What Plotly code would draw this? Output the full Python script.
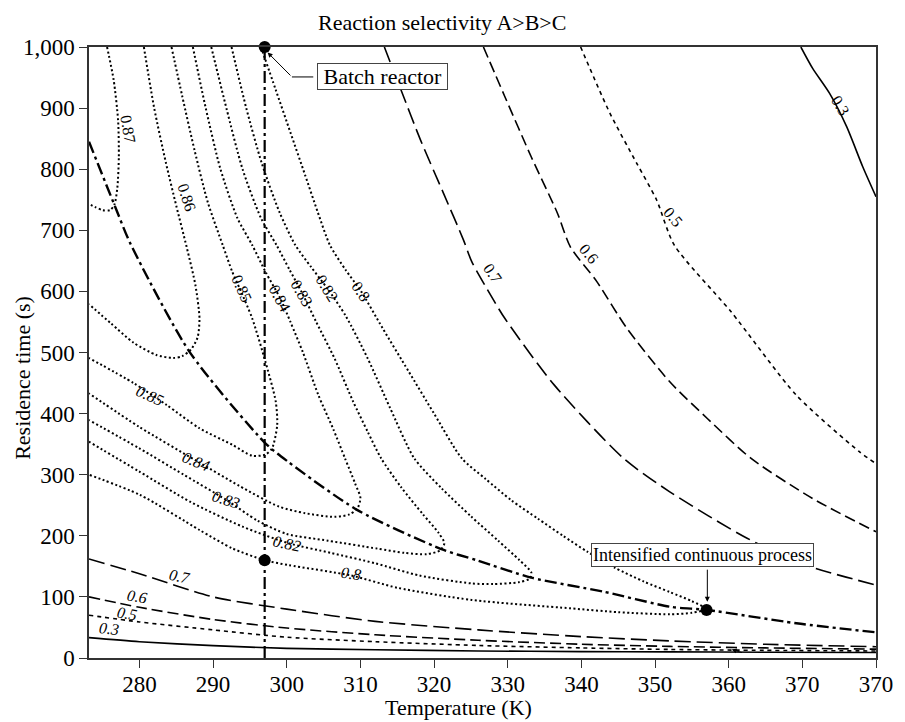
import plotly.graph_objects as go

T_MIN, T_MAX = 273.15, 380.0

# ---- contour lines (Temperature K, residence time s) ----
c087_T = [275.6, 276.5, 277.1, 277.2, 277.0, 276.6, 276.0, 275.0, 274.0, 273.15]
c087_t = [1000, 946, 880, 820, 770, 742, 733, 733, 738, 743]

c086_T = [280.6, 282.0, 283.6, 285.0, 286.4, 287.6, 288.15, 287.9, 287.0, 285.8, 284.6, 282.3, 279.2, 276.1, 273.15]
c086_t = [1000, 900, 810, 740, 673, 610, 556, 525, 505, 494, 491, 496, 516, 548, 579]

c085_T = [284.35, 285.8, 287.5, 289.3, 291.3, 292.6, 293.6, 295.3, 297.1, 298.5, 298.7, 298.0, 297.1, 295.3, 292.6, 288.15, 283.7, 279.2, 273.15]
c085_t = [1000, 920, 830, 745, 676, 632, 605, 556, 485, 420, 381, 343, 333, 331, 349, 376, 414, 450, 491]

c084_T = [287.25, 289.0, 291.0, 293.3, 295.3, 297.2, 299.1, 300.5, 302.2, 304.3, 306.3, 307.9, 309.3, 310.0, 309.6, 308.5, 306.5, 302.5, 298.9, 293.5, 287.7, 280.0, 273.15]
c084_t = [1000, 900, 800, 720, 676, 630, 589, 550, 500, 430, 375, 327, 285, 262, 245, 235, 231, 237, 248, 282, 323, 378, 433]

c083_T = [289.75, 291.8, 294.0, 296.5, 298.6, 300.4, 302.1, 304.0, 306.5, 309.0, 311.0, 312.8, 315.5, 318.5, 320.6, 321.4, 320.8, 319.0, 316.0, 312.3, 305.6, 300.0, 296.0, 291.75, 286.0, 280.0, 273.15]
c083_t = [1000, 900, 800, 720, 676, 635, 597, 550, 490, 420, 370, 327, 280, 235, 205, 188, 176, 170, 172, 179, 192, 203, 225, 259, 300, 343, 389.5]

c082_T = [292.5, 294.5, 296.6, 299.0, 301.15, 303.3, 305.5, 308.0, 311.0, 314.0, 317.3, 321.0, 325.0, 328.7, 331.6, 333.2, 333.0, 331.5, 328.0, 325.1, 318.0, 312.0, 306.0, 300.2, 294.0, 287.0, 280.0, 273.15]
c082_t = [1000, 900, 810, 730, 676, 640, 605, 560, 490, 410, 327, 278, 232, 192, 160, 140, 130, 124, 121, 122, 135, 155, 172, 188, 215, 255, 305, 354]

c080_T = [296.5, 298.5, 300.5, 302.5, 304.2, 305.85, 308.0, 310.1, 313.0, 316.5, 320.0, 323.75, 327.0, 330.5, 334.1, 337.5, 340.8, 344.5, 348.5, 352.0, 355.0, 357.0, 355.0, 352.0, 345.0, 338.5, 325.1, 315.0, 308.75, 300.25, 297.0, 292.6, 288.15, 280.1, 273.15]
c080_t = [1000, 930, 860, 790, 730, 676, 635, 600, 540, 470, 400, 327, 293, 258, 228, 200, 174, 148, 125, 108, 93, 80, 74, 71.5, 75, 81.3, 95, 115, 135, 152, 160, 179.5, 209.5, 266.8, 300]

c070u_T = [313.25, 315.5, 318.15, 321.3, 324.0, 325.1, 326.9, 329.6, 336.3, 345.7, 352.0, 362.5, 371.0, 380.0]
c070u_t = [1000, 930, 848, 760, 684, 649, 610, 556, 447, 327, 272, 196, 150, 119.5]

c060u_T = [326.7, 329.6, 333.2, 336.75, 338.5, 342.1, 346.15, 352.0, 357.1, 363.0, 371.4, 380.0]
c060u_t = [1000, 919, 820, 728, 673, 616, 540, 452, 392, 327, 261, 206.7]

c050u_T = [339.9, 343.9, 347.5, 350.2, 352.6, 360.3, 369.2, 377.7, 380.0]
c050u_t = [1000, 891, 810, 750, 676, 567, 430, 338, 318]

c030u_T = [369.8, 371.4, 373.7, 376.0, 378.2, 380.0]
c030u_t = [1000, 965, 924, 870, 804, 755]

low_T = [273.15, 280, 290, 300, 312, 326, 340, 352, 365, 380]
c070l_t = [162, 138, 100, 80, 60, 46, 35, 28, 22.5, 18.5]
c060l_t = [100, 83, 63, 49, 38, 29, 22.5, 19, 16.5, 14.5]
c050l_t = [70, 59, 46, 34, 26.7, 20.5, 16.5, 14, 12.5, 11.5]
c030l_t = [33.3, 26.7, 20.2, 15.8, 13.5, 11.5, 10.5, 10, 9.5, 9]

ridge_T = [273.15, 276.7, 278.75, 286.8, 297.1, 300.2, 309.6, 321.3, 325.8, 333.2, 343.0, 352.0, 357.1, 369.2, 380.0]
ridge_t = [845, 738.6, 678.7, 501, 351.4, 321, 242, 176.8, 160, 131.5, 108.6, 84, 78.6, 56.8, 42]

batch_T = [297.0, 297.0]
batch_t = [0, 1000]

pts_T = [297.0, 297.0, 357.0]
pts_t = [1000, 160, 78.6]

# contour labels: text, T, t, angle, italic
lab_text = ["0.87", "0.86", "0.85", "0.84", "0.83", "0.82", "0.8", "0.7", "0.6", "0.5", "0.3",
            "0.85", "0.84", "0.83", "0.82", "0.8", "0.7", "0.6", "0.5", "0.3"]
lab_T = [278.4, 286.45, 293.9, 299.1, 302.1, 305.5, 310.1, 328.0, 341.0, 352.4, 375.2,
         281.4, 287.7, 291.75, 300.0, 308.75, 285.5, 279.7, 278.3, 275.8]
lab_t = [866, 754, 605, 589, 597, 605, 600, 630, 662, 722, 905,
         430, 322, 259, 188, 138.6, 133, 100, 73, 48.6]
lab_ang = [80, 72, 66, 62, 60, 58, 55, 55, 50, 50, 58,
           25, 22, 18, 12, 8, 12, 10, 10, 6]
lab_italic = [False] * 11 + [True] * 9

x_ticks = [280, 290, 300, 310, 320, 330, 340, 350, 360, 370, 380]
x_ticktext = ["280", "290", "300", "310", "320", "330", "340", "350", "360", "370", "370"]
y_ticks = [0, 100, 200, 300, 400, 500, 600, 700, 800, 900, 1000]
y_ticktext = ["0", "100", "200", "300", "400", "500", "600", "700", "800", "900", "1,000"]

FONT = "Liberation Serif"
DOT = "2px,2.5px"
NB = "\u00a0"
fig = go.Figure()


def add_line(xs, ys, dash, width=1.6, shape="spline"):
    fig.add_trace(go.Scatter(x=xs, y=ys, mode="lines",
                             line=dict(color="black", width=width, dash=dash, shape=shape, smoothing=0.7),
                             hoverinfo="skip", showlegend=False))


for xs, ys in [(c087_T, c087_t), (c086_T, c086_t), (c085_T, c085_t), (c084_T, c084_t),
               (c083_T, c083_t), (c082_T, c082_t), (c080_T, c080_t)]:
    add_line(xs, ys, DOT, 2.0)

add_line(c070u_T, c070u_t, "16px,6px")
add_line(low_T, c070l_t, "16px,6px")
add_line(c060u_T, c060u_t, "11px,5px")
add_line(low_T, c060l_t, "11px,5px")
add_line(c050u_T, c050u_t, "4px,4px")
add_line(low_T, c050l_t, "4px,4px")
add_line(c030u_T, c030u_t, "solid")
add_line(low_T, c030l_t, "solid")

add_line(ridge_T, ridge_t, "12px,4px,3px,4px", 2.4)
add_line(batch_T, batch_t, "12px,4px,3px,4px", 2.2, shape="linear")

fig.add_trace(go.Scatter(x=pts_T, y=pts_t, mode="markers",
                         marker=dict(color="black", size=12), cliponaxis=False,
                         hoverinfo="skip", showlegend=False))

for txt, tx, ty, ang, it in zip(lab_text, lab_T, lab_t, lab_ang, lab_italic):
    fig.add_annotation(x=tx, y=ty, text=txt, showarrow=False, textangle=ang,
                       xanchor="center", yanchor="middle",
                       font=dict(size=16, family=FONT, color="black",
                                 style="italic" if it else "normal"))

# Batch reactor callout
fig.add_annotation(x=313.05, y=952, text=NB + "Batch reactor" + NB, showarrow=False,
                   xanchor="center", yanchor="middle",
                   font=dict(size=22, family=FONT, color="black"),
                   bgcolor="white", bordercolor="#444", borderwidth=1, borderpad=0)
fig.add_shape(type="line", x0=303.6, y0=951, x1=300.7, y1=951, line=dict(color="black", width=1))
fig.add_annotation(x=297.4, y=991, ax=300.7, ay=951, axref="x", ayref="y", text="",
                   showarrow=True, arrowhead=2, arrowsize=1, arrowwidth=1, arrowcolor="black")

# Intensified continuous process callout
fig.add_annotation(x=356.5, y=168.6, text="Intensified continuous process", showarrow=False,
                   xanchor="center", yanchor="middle",
                   font=dict(size=18, family=FONT, color="black"),
                   bgcolor="white", bordercolor="#444", borderwidth=1, borderpad=1)
fig.add_annotation(x=357.1, y=92, ax=357.1, ay=147, axref="x", ayref="y", text="",
                   showarrow=True, arrowhead=2, arrowsize=1, arrowwidth=1, arrowcolor="black")
# small stray arrow near bottom
fig.add_annotation(x=360.4, y=14, ax=362.0, ay=8, axref="x", ayref="y", text="",
                   showarrow=True, arrowhead=2, arrowsize=1, arrowwidth=1, arrowcolor="black")

# titles
fig.add_annotation(x=0.448, y=1.0393, xref="paper", yref="paper", text="Reaction selectivity A>B>C",
                   showarrow=False, xanchor="center", yanchor="middle",
                   font=dict(size=22, family=FONT, color="black"))
fig.add_annotation(x=0.469, y=-0.0818, xref="paper", yref="paper", text="Temperature (K)",
                   showarrow=False, xanchor="center", yanchor="middle",
                   font=dict(size=22, family=FONT, color="black"))
fig.add_annotation(x=-0.0843, y=0.458, xref="paper", yref="paper", text="Residence time (s)",
                   showarrow=False, textangle=-90, xanchor="center", yanchor="middle",
                   font=dict(size=22, family=FONT, color="black"))

axis_common = dict(showgrid=False, zeroline=False, showline=True, linecolor="#333", linewidth=1.5,
                   mirror=True, ticks="outside", ticklen=8, tickwidth=1.2, tickcolor="#333",
                   tickfont=dict(size=23, family=FONT, color="black"))
fig.update_xaxes(range=[T_MIN, T_MAX], tickvals=x_ticks, ticktext=x_ticktext,
                 ticklabelstandoff=-3, **axis_common)
fig.update_yaxes(range=[0, 1000], tickvals=y_ticks, ticktext=y_ticktext, **axis_common)

fig.update_layout(width=905, height=722, margin=dict(l=89, r=21, t=47, b=64),
                  plot_bgcolor="white", paper_bgcolor="white",
                  font=dict(family=FONT, color="black"))

fig.write_html("out.html", config={"displayModeBar": False},
               post_script="document.body.style.margin='0';document.body.style.padding='0';")
